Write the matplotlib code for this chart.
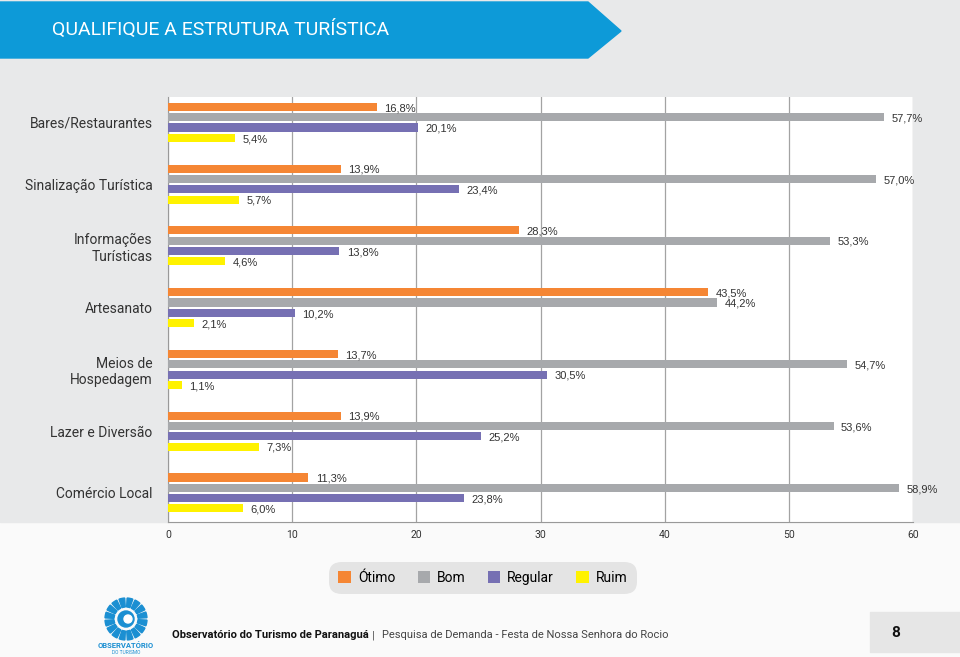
import numpy as np
import matplotlib.pyplot as plt
from matplotlib.patches import Polygon, Rectangle, Wedge, Circle

plt.rcParams['font.family'] = ['Roboto', 'DejaVu Sans']

categorias = ['Bares/Restaurantes', 'Sinalização Turística', 'Informações\nTurísticas',
              'Artesanato', 'Meios de\nHospedagem', 'Lazer e Diversão', 'Comércio Local']
otimo = [16.8, 13.9, 28.3, 43.5, 13.7, 13.9, 11.3]
bom = [57.7, 57.0, 53.3, 44.2, 54.7, 53.6, 58.9]
regular = [20.1, 23.4, 13.8, 10.2, 30.5, 25.2, 23.8]
ruim = [5.4, 5.7, 4.6, 2.1, 1.1, 7.3, 6.0]
series = ['Ótimo', 'Bom', 'Regular', 'Ruim']
cores = ['#f58634', '#a7a9ac', '#7670b3', '#fff200']
ticks_x = [0, 10, 20, 30, 40, 50, 60]

W, H = 960, 657
fig = plt.figure(figsize=(W / 100, H / 100), dpi=100)

# fundo desenhado em coordenadas de pixel
bg = fig.add_axes([0, 0, 1, 1], zorder=-1)
bg.set_xlim(0, W)
bg.set_ylim(H, 0)
bg.axis('off')
bg.add_patch(Rectangle((0, 0), W, H, color='#fafafa'))
bg.add_patch(Rectangle((0, 0), W, 522, color='#e8e9ea'))
# faixa do titulo
bg.add_patch(Polygon([(0, 2), (588, 2), (621, 31), (588, 58), (0, 58)], closed=True, color='#0d9ad8'))
bg.text(52, 29, 'QUALIFIQUE A ESTRUTURA TURÍSTICA', color='white', fontsize=14,
        va='center', ha='left')

# rodape
cx, cy = 126, 619
for k in range(16):
    a = k * 22.5
    bg.add_patch(Wedge((cx, cy), 21, a + 3, a + 19, width=9, color='#1b8fd2'))
bg.add_patch(Circle((cx, cy), 8, color='#1b8fd2'))
bg.add_patch(Circle((cx + 2, cy), 4, color='white'))
bg.text(cx, 646, 'OBSERVATÓRIO', color='#1b8fd2', fontsize=5.5, fontweight='bold', ha='center', va='center')
bg.text(cx, 653, 'DO TURISMO', color='#1b8fd2', fontsize=3.5, ha='center', va='center')
bg.text(172, 635, 'Observatório do Turismo de Paranaguá', color='#111111', fontsize=8,
        fontweight='bold', va='center', ha='left')
bg.text(372, 635, '|', color='#444444', fontsize=8, va='center', ha='left')
bg.text(382, 635, 'Pesquisa de Demanda - Festa de Nossa Senhora do Rocio', color='#444444',
        fontsize=8, va='center', ha='left')
bg.add_patch(Rectangle((870, 612), 90, 40, color='#e6e6e6'))
bg.text(896, 633, '8', fontsize=11, fontweight='bold', va='center', ha='center', color='#111111')

# grafico
ax = fig.add_axes([168 / W, 1 - 522 / H, 745 / W, 425 / H])
ax.set_facecolor('white')
centros = np.arange(len(categorias))
passo = 0.167
altura = 0.13
valores = [otimo, bom, regular, ruim]
for i, (nome, vals, cor) in enumerate(zip(series, valores, cores)):
    ys = centros + (i - 1.5) * passo
    ax.barh(ys, vals, height=altura, color=cor, label=nome, zorder=3)
    for y, v in zip(ys, vals):
        ax.text(v + 0.6, y + 0.02, f'{v:.1f}%'.replace('.', ','), va='center', ha='left',
                fontsize=8, family='Liberation Sans', color='#333333', zorder=4)

ax.set_xlim(0, 60)
ax.set_ylim(6.47, -0.41)
ax.set_xticks(ticks_x)
ax.set_xticklabels([str(t) for t in ticks_x], fontsize=7.5, color='#333333')
ax.set_yticks(centros)
ax.set_yticklabels(categorias, fontsize=10, color='#333333', multialignment='right')
ax.tick_params(axis='both', length=0)
ax.tick_params(axis='y', pad=11)
ax.tick_params(axis='x', pad=6)
ax.grid(axis='x', color='#a3a3a3', linewidth=0.9, zorder=1)
for s in ['top', 'right']:
    ax.spines[s].set_visible(False)
for s in ['left', 'bottom']:
    ax.spines[s].set_color('#999999')

leg = fig.legend(loc='center', bbox_to_anchor=(483 / W, 1 - 578 / H), ncol=4, frameon=True,
                 fancybox=True, facecolor='#e4e4e4', edgecolor='none', framealpha=1,
                 fontsize=10, handlelength=0.9, handleheight=0.9, columnspacing=1.6,
                 handletextpad=0.5, borderpad=0.45)
leg.get_frame().set_boxstyle('round,pad=0.2,rounding_size=0.9')

fig.savefig('out.png', dpi=100)
